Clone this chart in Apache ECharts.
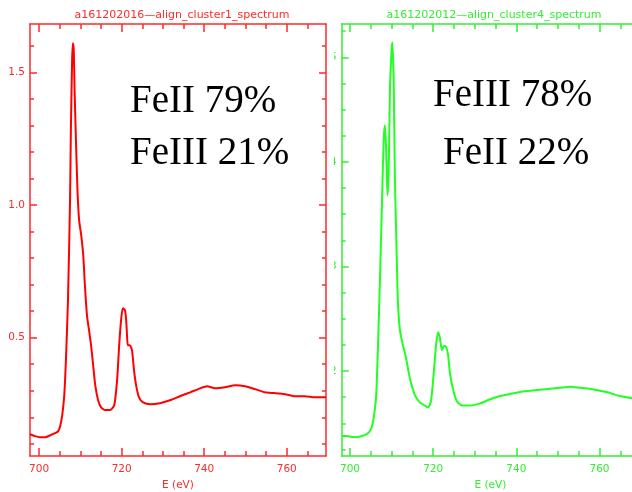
<!DOCTYPE html>
<html>
<head>
<meta charset="utf-8">
<script src="https://cdn.jsdelivr.net/npm/echarts@6/dist/echarts.min.js"></script>
<style>
html,body{margin:0;padding:0;width:632px;height:492px;overflow:hidden;background:#fff;}
#red{position:absolute;left:0;top:0;width:334px;height:492px;}
#gclip{position:absolute;left:334px;top:0;width:298px;height:492px;overflow:hidden;}
#green{position:absolute;left:-20px;top:0;width:340px;height:492px;}
</style>
</head>
<body>
<div id="red"></div>
<div id="gclip"><div id="green"></div></div>
<script>
// ---- data ----
const redTitle = 'a161202016\u2014align_cluster1_spectrum';
const greenTitle = 'a161202012\u2014align_cluster4_spectrum';
const xAxisName = 'E (eV)';
const xMajorTicks = [700, 720, 740, 760];
const xMinorTicks = [705, 710, 715, 725, 730, 735, 745, 750, 755, 765];
const redYMajorTicks = [0.5, 1.0, 1.5];
const redYMinorTicks = [0.1, 0.2, 0.3, 0.4, 0.6, 0.7, 0.8, 0.9, 1.1, 1.2, 1.3, 1.4, 1.6];
const greenYMajorTicks = [2, 3, 4, 5];
const greenYMinorTicks = [1.25, 1.5, 1.75, 2.25, 2.5, 2.75, 3.25, 3.5, 3.75, 4.25, 4.5, 4.75, 5.25];
const redAnnotations = ['FeII 79%', 'FeIII 21%'];
const greenAnnotations = ['FeIII 78%', 'FeII 22%'];

const redEnergy = [697.8, 699.0, 700.2, 701.5, 702.7, 703.9, 704.6, 705.1, 705.6, 706.1, 706.5, 707.0, 707.5, 707.7, 708.0, 708.2, 708.4, 708.6, 709.0, 709.3, 709.7, 710.2, 710.7, 711.1, 711.6, 712.1, 712.6, 713.1, 713.6, 714.3, 715.0, 716.0, 717.2, 718.2, 718.9, 719.4, 719.9, 720.3, 720.8, 721.1, 721.3, 721.5, 722.0, 722.5, 723.0, 723.5, 724.2, 725.2, 726.9, 729.3, 731.7, 734.1, 736.6, 739.0, 740.7, 742.6, 745.0, 747.5, 749.9, 752.3, 754.7, 757.1, 759.6, 762.0, 764.4, 766.8, 769.5];
const redIntensity = [0.136, 0.129, 0.125, 0.125, 0.132, 0.140, 0.147, 0.166, 0.207, 0.283, 0.415, 0.641, 1.018, 1.28, 1.545, 1.609, 1.583, 1.432, 1.206, 1.055, 0.942, 0.886, 0.810, 0.697, 0.584, 0.528, 0.471, 0.396, 0.321, 0.264, 0.238, 0.227, 0.227, 0.245, 0.34, 0.471, 0.573, 0.611, 0.603, 0.566, 0.509, 0.471, 0.471, 0.453, 0.377, 0.321, 0.275, 0.256, 0.249, 0.253, 0.264, 0.279, 0.294, 0.309, 0.317, 0.309, 0.313, 0.321, 0.317, 0.306, 0.294, 0.291, 0.287, 0.279, 0.279, 0.275, 0.275];

const greenEnergy = [698.0, 699.3, 700.5, 701.7, 702.9, 704.1, 704.8, 705.3, 705.8, 706.3, 706.7, 707.2, 707.7, 708.1, 708.4, 708.7, 709.0, 709.3, 709.6, 710.0, 710.2, 710.5, 710.8, 711.2, 711.5, 712.0, 712.7, 713.5, 714.4, 715.6, 716.8, 718.0, 718.8, 719.5, 720.2, 720.7, 721.2, 721.6, 722.1, 722.6, 723.1, 723.6, 724.0, 724.8, 725.7, 726.9, 728.8, 731.3, 733.7, 736.1, 738.5, 740.9, 743.3, 745.7, 748.1, 750.5, 752.9, 755.3, 757.7, 760.1, 762.5, 764.9, 767.8, 769.5];
const greenIntensity = [1.379, 1.379, 1.369, 1.369, 1.379, 1.398, 1.426, 1.474, 1.579, 1.771, 2.20, 2.87, 3.63, 4.21, 4.35, 4.11, 3.68, 3.92, 4.69, 5.07, 5.14, 4.78, 3.83, 3.16, 2.68, 2.39, 2.25, 2.12, 1.93, 1.77, 1.70, 1.67, 1.65, 1.72, 2.01, 2.25, 2.37, 2.32, 2.20, 2.24, 2.23, 2.15, 1.99, 1.82, 1.71, 1.67, 1.67, 1.69, 1.73, 1.76, 1.78, 1.80, 1.81, 1.82, 1.83, 1.84, 1.85, 1.84, 1.83, 1.81, 1.79, 1.76, 1.74, 1.73];

// ---- helpers ----
function xAxes(min, max, color) {
  const ls = {color: color, width: 1.5};
  return [
    {type:'value', gridIndex:0, position:'bottom', min:min, max:max,
     axisLine:{show:true, onZero:false, lineStyle:ls},
     axisTick:{show:true, inside:true, length:8, customValues:xMajorTicks, lineStyle:ls},
     axisLabel:{show:true, customValues:xMajorTicks, color:color, fontSize:10.5, margin:8, fontFamily:'DejaVu Sans'},
     splitLine:{show:false},
     name:xAxisName, nameLocation:'middle', nameGap:20,
     nameTextStyle:{color:color, fontSize:10.5, fontFamily:'DejaVu Sans'}},
    {type:'value', gridIndex:0, position:'bottom', min:min, max:max,
     axisLine:{show:false, onZero:false},
     axisTick:{show:true, inside:true, length:5, customValues:xMinorTicks, lineStyle:ls},
     axisLabel:{show:false}, splitLine:{show:false}},
    {type:'value', gridIndex:0, position:'top', min:min, max:max,
     axisLine:{show:true, onZero:false, lineStyle:ls},
     axisTick:{show:true, inside:true, length:8, customValues:xMajorTicks, lineStyle:ls},
     axisLabel:{show:false}, splitLine:{show:false}},
    {type:'value', gridIndex:0, position:'top', min:min, max:max,
     axisLine:{show:false, onZero:false},
     axisTick:{show:true, inside:true, length:5, customValues:xMinorTicks, lineStyle:ls},
     axisLabel:{show:false}, splitLine:{show:false}}
  ];
}
function yAxes(min, max, majors, minors, color, fmt) {
  const ls = {color: color, width: 1.5};
  return [
    {type:'value', gridIndex:0, position:'left', min:min, max:max,
     axisLine:{show:true, onZero:false, lineStyle:ls},
     axisTick:{show:true, inside:true, length:7, customValues:majors, lineStyle:ls},
     axisLabel:{show:true, customValues:majors, color:color, fontSize:10.5, margin:5, fontFamily:'DejaVu Sans', formatter:fmt},
     splitLine:{show:false}},
    {type:'value', gridIndex:0, position:'left', min:min, max:max,
     axisLine:{show:false, onZero:false},
     axisTick:{show:true, inside:true, length:4, customValues:minors, lineStyle:ls},
     axisLabel:{show:false}, splitLine:{show:false}},
    {type:'value', gridIndex:0, position:'right', min:min, max:max,
     axisLine:{show:true, onZero:false, lineStyle:ls},
     axisTick:{show:true, inside:true, length:7, customValues:majors, lineStyle:ls},
     axisLabel:{show:false}, splitLine:{show:false}},
    {type:'value', gridIndex:0, position:'right', min:min, max:max,
     axisLine:{show:false, onZero:false},
     axisTick:{show:true, inside:true, length:4, customValues:minors, lineStyle:ls},
     axisLabel:{show:false}, splitLine:{show:false}}
  ];
}
function annText(x, y, txt) {
  return {type:'text', x:x, y:y, z:100,
    style:{text:txt, fill:'#000', font:'39px "Liberation Serif", serif', textAlign:'left', textVerticalAlign:'middle'}};
}

// ---- red panel ----
const redColor = '#ff2a2a';
const red = echarts.init(document.getElementById('red'), null, {renderer:'canvas'});
red.setOption({
  animation:false,
  title:{text:redTitle, left:177, top:5, textAlign:'center',
    textStyle:{color:redColor, fontSize:11, fontWeight:'normal', fontFamily:'DejaVu Sans'}},
  grid:{left:30, right:8, top:24, bottom:36, containLabel:false, outerBoundsMode:'none'},
  xAxis:xAxes(697.8, 769.5, redColor),
  yAxis:yAxes(0.054, 1.682, redYMajorTicks, redYMinorTicks, redColor, v => v.toFixed(1)),
  series:[{type:'line', xAxisIndex:0, yAxisIndex:0, showSymbol:false, smooth:0.2,
    lineStyle:{color:'#ff0000', width:2}, clip:true,
    data:redEnergy.map((e,i)=>[e, redIntensity[i]])}],
  graphic:[annText(130, 102, redAnnotations[0]), annText(130, 154, redAnnotations[1])]
});

// ---- green panel ----
const greenColor = '#33ee33';
const green = echarts.init(document.getElementById('green'), null, {renderer:'canvas'});
green.setOption({
  animation:false,
  title:{text:greenTitle, left:175, top:5, textAlign:'center',
    textStyle:{color:greenColor, fontSize:11, fontWeight:'normal', fontFamily:'DejaVu Sans'}},
  grid:{left:27.7, right:15, top:24, bottom:36, containLabel:false, outerBoundsMode:'none'},
  xAxis:xAxes(698.0, 769.5, greenColor),
  yAxis:yAxes(1.187, 5.318, greenYMajorTicks, greenYMinorTicks, greenColor, v => String(v)),
  series:[{type:'line', xAxisIndex:0, yAxisIndex:0, showSymbol:false, smooth:0.2,
    lineStyle:{color:'#22ff22', width:2}, clip:true,
    data:greenEnergy.map((e,i)=>[e, greenIntensity[i]])}],
  graphic:[annText(119, 96, greenAnnotations[0]), annText(129, 154, greenAnnotations[1])]
});
</script>
</body>
</html>
